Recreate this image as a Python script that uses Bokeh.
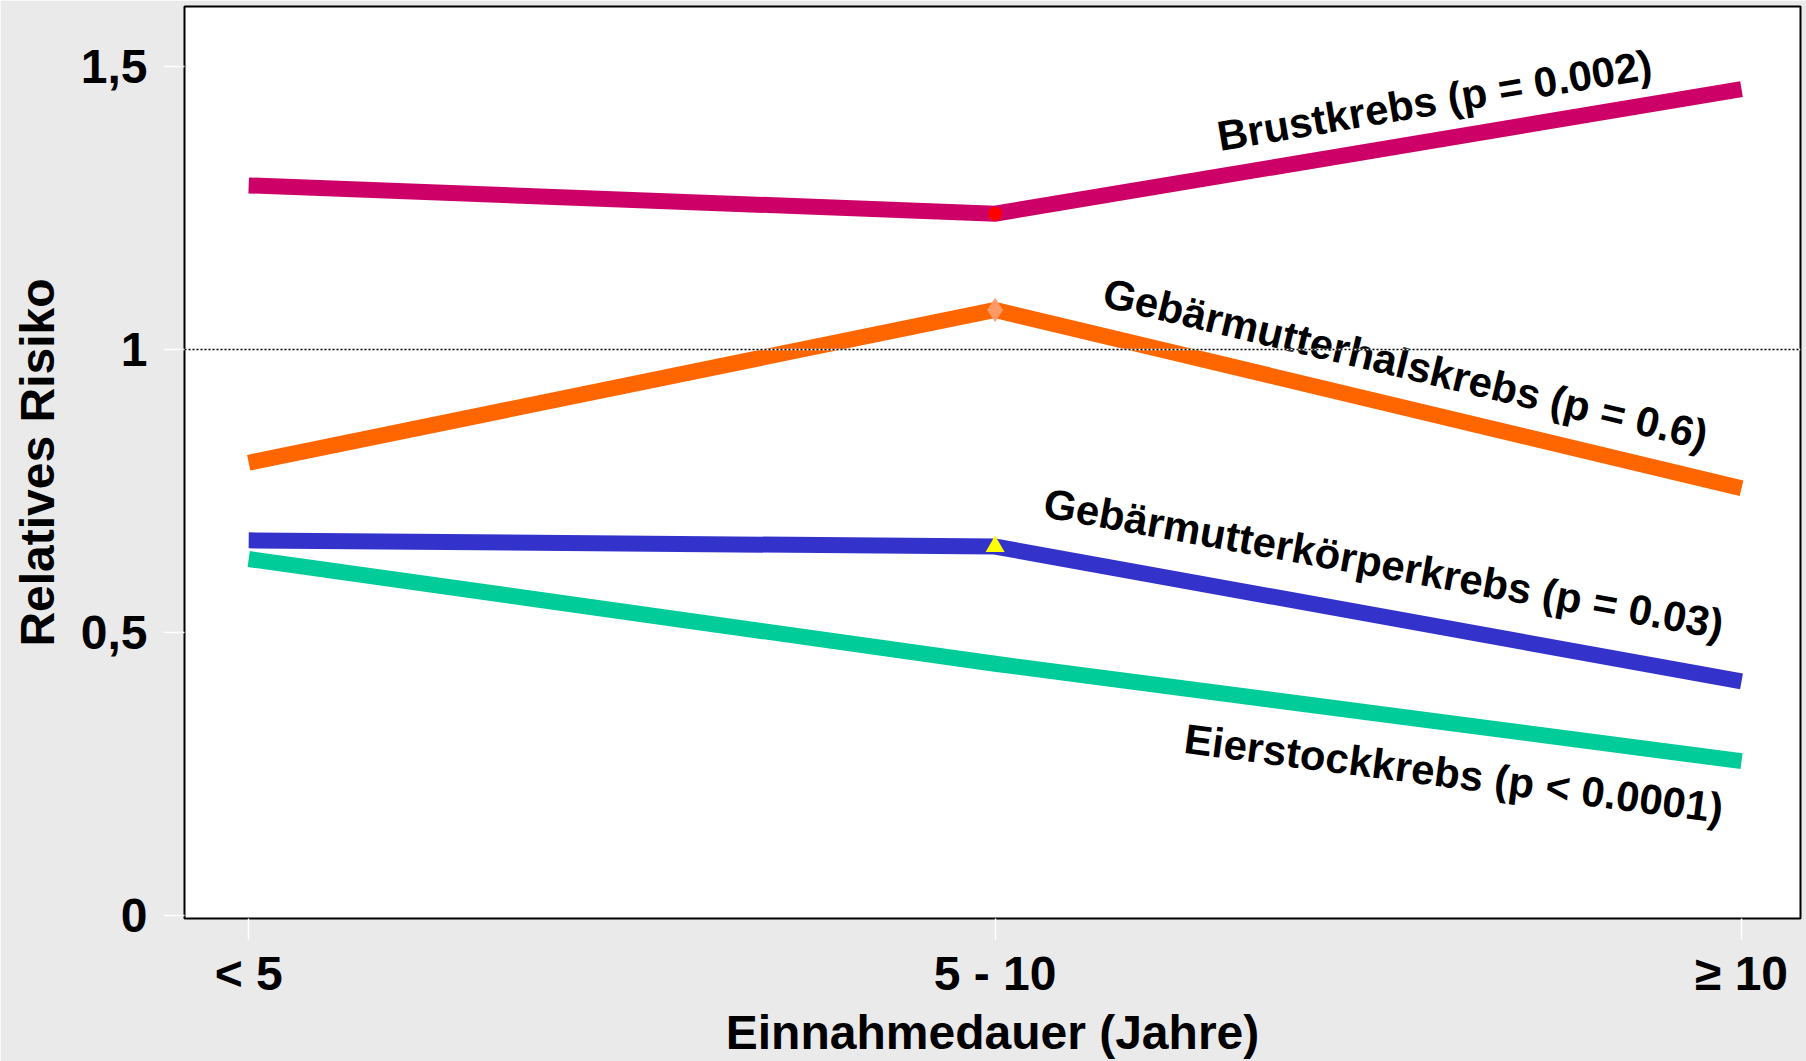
import math

from bokeh.core.properties import value
from bokeh.embed import file_html
from bokeh.models import FixedTicker, Range1d, Span
from bokeh.plotting import figure
from bokeh.resources import INLINE

# Duration of use categories and relative risk per cancer type
categories = ["< 5", "5 - 10", "≥ 10"]
x_pos = [0, 1, 2]
brustkrebs = [1.29, 1.24, 1.46]
gebaermutterhals = [0.80, 1.07, 0.755]
gebaermutterkoerper = [0.663, 0.652, 0.414]
eierstock = [0.630, 0.445, 0.273]

series_labels = [
    "Brustkrebs (p = 0.002)",
    "Gebärmutterhalskrebs (p = 0.6)",
    "Gebärmutterkörperkrebs (p = 0.03)",
    "Eierstockkrebs (p < 0.0001)",
]

y_ticks = [0.0, 0.5, 1.0, 1.5]
y_tick_labels = ["0", "0,5", "1", "1,5"]

FONT = "Liberation Sans"
W, H = 1806, 1061
BL, BR, BT, BB = 184, 6, 6, 143
X0, X1 = -0.086, 2.079
Y0, Y1 = -0.005, 1.606

p = figure(
    width=W, height=H,
    x_range=Range1d(X0, X1), y_range=Range1d(Y0, Y1),
    output_backend="svg", toolbar_location=None,
    min_border_left=BL, min_border_right=BR,
    min_border_top=BT, min_border_bottom=BB,
)
p.background_fill_color = "white"
p.border_fill_color = "#EAEAEA"
p.outline_line_color = "black"
p.outline_line_width = 2
p.xgrid.visible = False
p.ygrid.visible = False

for ax in (p.xaxis, p.yaxis):
    ax.axis_line_color = None
    ax.major_tick_line_color = "white"
    ax.major_tick_line_width = 1.5
    ax.major_tick_in = 0
    ax.minor_tick_line_color = None
    ax.major_label_text_font = FONT
    ax.major_label_text_font_style = "bold"
    ax.major_label_text_font_size = "48px"
    ax.major_label_text_color = "black"
    ax.axis_label_text_font = FONT
    ax.axis_label_text_font_style = "bold"
    ax.axis_label_text_font_size = "48px"
    ax.axis_label_text_color = "black"

p.yaxis.ticker = FixedTicker(ticks=y_ticks)
p.yaxis.major_label_overrides = dict(zip(y_ticks, y_tick_labels))
p.yaxis.major_tick_out = 21
p.yaxis.major_label_standoff = 16
p.yaxis.axis_label = "Relatives Risiko"
p.yaxis.axis_label_standoff = 14

p.xaxis.ticker = FixedTicker(ticks=x_pos)
p.xaxis.major_label_overrides = dict(zip(x_pos, categories))
p.xaxis.major_tick_out = 21
p.xaxis.major_label_standoff = 7
p.xaxis.axis_label = "Einnahmedauer (Jahre)"
p.xaxis.axis_label_standoff = 3

series = [
    (brustkrebs, "#CC0066"),
    (gebaermutterhals, "#FF6600"),
    (gebaermutterkoerper, "#3333CC"),
    (eierstock, "#00CC99"),
]

# draw bottom series first so the upper lines sit on top
for vals, col in reversed(series):
    p.line(x_pos, vals, line_width=16, line_color=col,
           line_cap="butt", line_join="miter")

# markers at the middle category
p.scatter([x_pos[1]], [brustkrebs[1]], marker="circle", size=14,
          fill_color="red", line_color=None)
p.scatter([x_pos[1]], [gebaermutterhals[1]], marker="diamond", size=24,
          fill_color="#FF9966", line_color=None)
p.scatter([x_pos[1]], [gebaermutterkoerper[1]], marker="triangle", size=19,
          fill_color="#FFFF00", line_color=None)

# reference line at relative risk 1
p.add_layout(Span(location=1, dimension="width", line_color="white",
                  line_width=1.5))
p.add_layout(Span(location=1, dimension="width", line_color="black",
                  line_width=1.5, line_dash="2 2"))

# series labels laid along the last segment of each line
ppu_x = (W - BL - BR) / (X1 - X0)
ppu_y = (H - BT - BB) / (Y1 - Y0)
label_pos = [(0.298, 40), (0.146, 44), (0.066, 53), (0.254, -50)]
lx, ly, la = [], [], []
for (vals, _), (t, off) in zip(series, label_pos):
    xa, xb = x_pos[1], x_pos[2]
    ya, yb = vals[1], vals[2]
    lx.append(xa + t * (xb - xa))
    ly.append(ya + t * (yb - ya) + off / ppu_y)
    la.append(math.atan2((yb - ya) * ppu_y, (xb - xa) * ppu_x))

p.text(x=lx, y=ly, text=series_labels, angle=la,
       text_font=value(FONT), text_font_style="bold",
       text_font_size="42px", text_color="black",
       text_align="left", text_baseline="alphabetic")

open("out.html", "w").write(file_html(p, INLINE))
